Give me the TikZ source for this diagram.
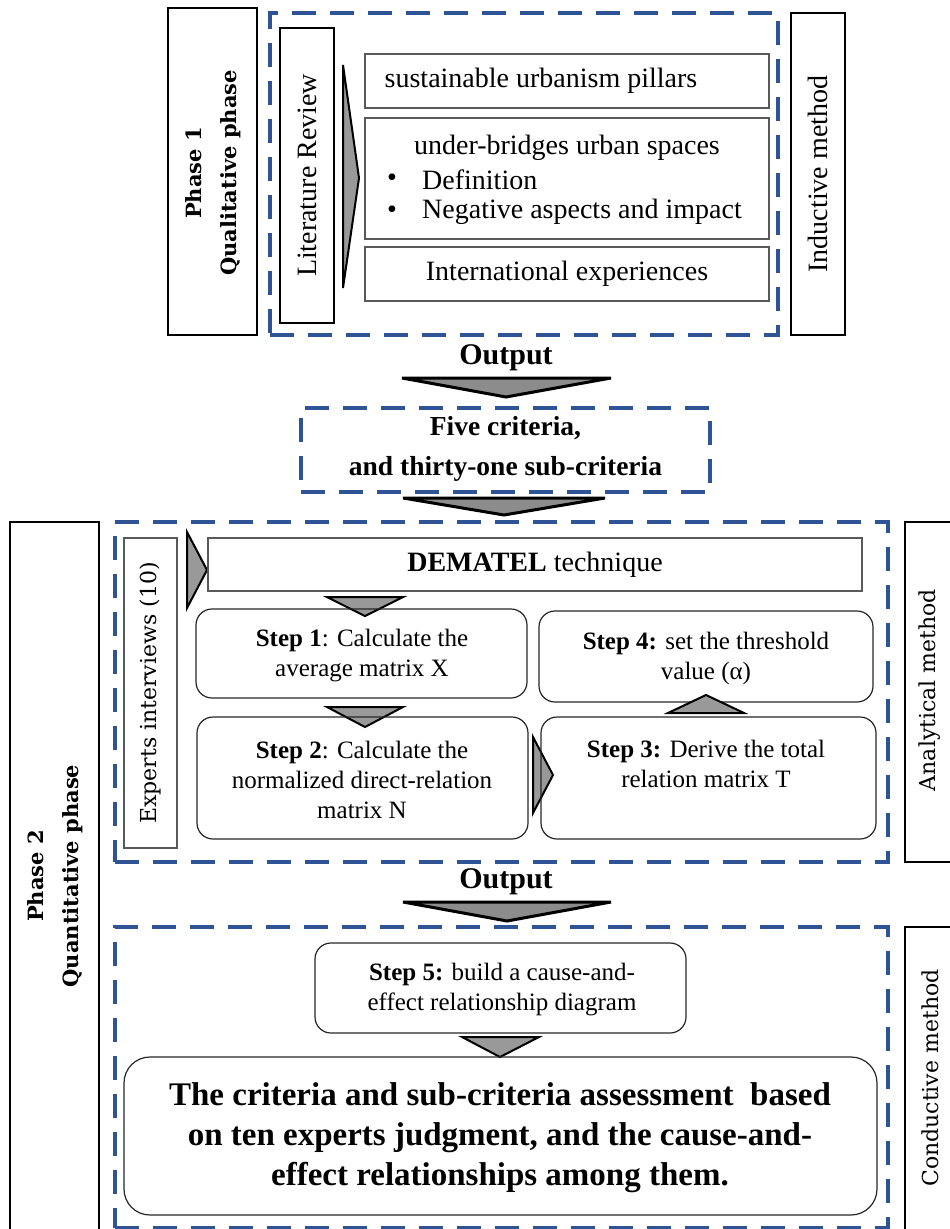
\documentclass[tikz,border=0pt]{standalone}
\usepackage{fontspec}
\setmainfont{Liberation Serif}
\newfontfamily\dvs{DejaVu Serif}
\definecolor{dashblue}{RGB}{46,84,150}
\begin{document}
\begin{tikzpicture}[x=1pt,y=-1pt,
  sz/.style 2 args={minimum width=#1, minimum height=#2},
  blk/.style={draw=black, line width=2.6pt, inner sep=0pt, outer sep=0pt},
  thinbox/.style={draw=black!65, line width=1.2pt, inner sep=0pt, outer sep=0pt},
  rbox/.style={draw=black!85, line width=1.2pt, rounded corners=16pt, inner sep=0pt, outer sep=0pt},
  bdash/.style={draw=dashblue, line width=4pt, dash pattern=on 24pt off 14pt, inner sep=0pt, outer sep=0pt},
  tri/.style={draw=black, line width=2pt, fill=black!40, line join=miter},
  bigtri/.style={draw=black, line width=3pt, fill=black!45, line join=miter},
  fx/.style={inner sep=0pt, align=center, font=\fontsize{28}{33}\selectfont},
  stx/.style={inner sep=0pt, align=center, font=\fontsize{25}{30}\selectfont},
  phx/.style={inner sep=0pt, align=center, rotate=90, font={\dvs\bfseries\fontsize{21}{35}\selectfont}},
  mtx/.style={inner sep=0pt, align=center, rotate=90, font={\dvs\fontsize{22}{26}\selectfont}},
  outx/.style={inner sep=0pt, font=\bfseries\fontsize{30}{34}\selectfont}
]
\useasboundingbox (0,0) rectangle (950,1229);

% ---------- Phase 1 ----------
\node[blk, sz={89pt}{327pt}] (ph1) at (212.5,171.5) {};
\node[phx] (ph1t) at (213,173) {Phase 1\\Qualitative phase};
\node[bdash, sz={508pt}{322pt}] (q1) at (524,174) {};
\node[blk, sz={54pt}{295pt}] (lr) at (307,175.5) {};
\node[fx, rotate=90] (lrt) at (lr.center) {Literature Review};
\draw[tri] (343,65) -- (359,178) -- (343,288) -- cycle;
\node[thinbox, sz={404pt}{54pt}] (sup) at (567,81) {};
\node[fx] (supt) at (541,81) {sustainable urbanism pillars};
\node[thinbox, sz={404pt}{121pt}] (ubr) at (567,178.5) {};
\node[fx] (ubt) at (567,148) {under-bridges urban spaces};
\node[fx] (b1) at (392,180) {•};
\node[fx] (b2) at (392,212) {•};
\node[fx, anchor=west] (def) at (422,180) {Definition};
\node[fx, anchor=west] (neg) at (422,212) {Negative aspects and impact};
\node[thinbox, sz={404pt}{54pt}] (intl) at (567,274) {};
\node[fx] (intlt) at (intl.center) {International experiences};
\node[blk, sz={54pt}{322pt}] (ind) at (818,174) {};
\node[fx, rotate=90] (indt) at (ind.center) {Inductive method};

% ---------- Output 1 ----------
\node[outx] (out1) at (506,358) {Output};
\draw[bigtri] (402,378) -- (611,378) -- (506,397) -- cycle;
\node[bdash, sz={409pt}{84pt}] (five) at (505.5,450) {};
\node[inner sep=0pt, align=center, font=\bfseries\fontsize{27.5}{40}\selectfont] (fivet) at (505.5,449) {Five criteria,\\and thirty-one sub-criteria};
\draw[bigtri] (403,498) -- (605,498) -- (504,515) -- cycle;

% ---------- Phase 2 ----------
\node[blk, sz={89pt}{718pt}] (ph2) at (54.5,881) {};
\node[phx] (ph2t) at (55,876) {Phase 2\\Quantitative phase};
\node[bdash, sz={773pt}{340pt}] (q2) at (501.5,692) {};
\node[thinbox, sz={53pt}{310pt}] (exp) at (150.5,693) {};
\node[mtx] (expt) at (exp.center) {Experts interviews (10)};
\draw[tri] (187,532) -- (207,570) -- (187,608) -- cycle;
\node[thinbox, sz={654pt}{53pt}] (dem) at (535,564.5) {};
\node[fx] (demt) at (535,565) {\textbf{DEMATEL} technique};
\draw[tri] (327,597) -- (403,597) -- (365,616) -- cycle;
\node[rbox, sz={331pt}{89pt}] (s1) at (361.5,653.5) {};
\node[stx] (s1t) at (362,656) {\textbf{Step 1}: Calculate the\\average matrix X};
\node[rbox, sz={334pt}{91pt}] (s4) at (706,656.5) {};
\node[stx] (s4t) at (706,658) {\textbf{Step 4:} set the threshold\\value (α)};
\draw[tri] (668,713) -- (744,713) -- (706,695) -- cycle;
\draw[tri] (327,707) -- (403,707) -- (365,727) -- cycle;
\node[rbox, sz={331pt}{122pt}] (s2) at (362.5,778) {};
\node[stx] (s2t) at (362,780) {\textbf{Step 2}: Calculate the\\normalized direct-relation\\matrix N};
\draw[tri] (533,737) -- (553,775) -- (533,813) -- cycle;
\node[rbox, sz={335pt}{122pt}] (s3) at (708.5,778) {};
\node[stx] (s3t) at (706,764) {\textbf{Step 3:} Derive the total\\relation matrix T};
\node[blk, sz={55pt}{340pt}] (ana) at (932.5,692) {};
\node[mtx] (anat) at (930,690) {Analytical method};

% ---------- Output 2 ----------
\node[outx] (out2) at (506,882) {Output};
\draw[bigtri] (403,902) -- (611,902) -- (507,921) -- cycle;
\node[bdash, sz={773pt}{301pt}] (q3) at (501.5,1077.5) {};
\node[blk, sz={55pt}{313pt}] (con) at (932.5,1083.5) {};
\node[mtx] (cont) at (930,1078) {Conductive method};
\node[rbox, sz={371pt}{90pt}] (s5) at (500.5,988) {};
\node[stx] (s5t) at (502,990) {\textbf{Step 5:} build a cause-and-\\effect relationship diagram};
\draw[tri] (462,1037) -- (539,1037) -- (500,1057) -- cycle;
\node[rbox, rounded corners=26pt, sz={753pt}{158pt}] (fin) at (500.5,1136) {};
\node[inner sep=0pt, align=center, font=\bfseries\fontsize{33}{40}\selectfont] (fint) at (500,1138) {The criteria and sub-criteria assessment\ \ based\\on ten experts judgment, and the cause-and-\\effect relationships among them.};
\end{tikzpicture}
\end{document}
